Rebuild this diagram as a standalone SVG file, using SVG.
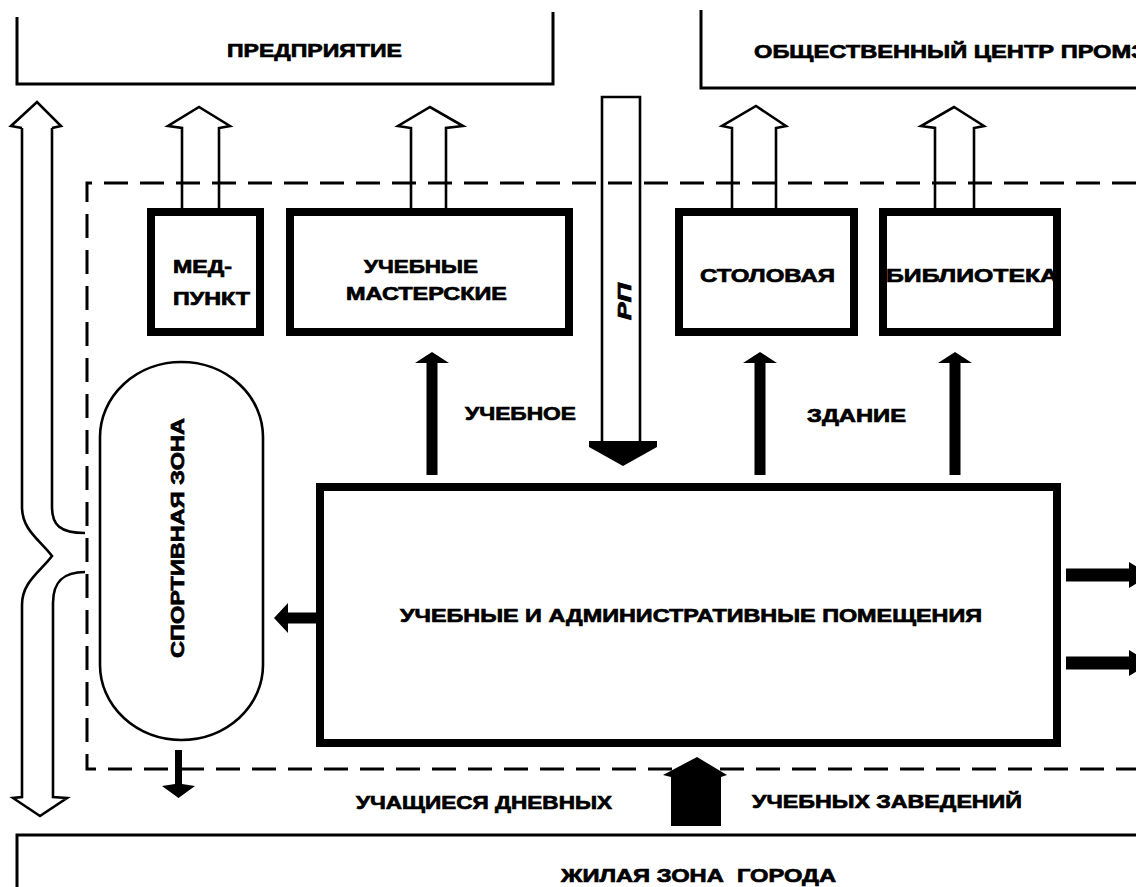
<svg xmlns="http://www.w3.org/2000/svg" width="1136" height="887" viewBox="0 0 1136 887">
  <style>
    .lbl { font-family: "Liberation Sans", Arial, sans-serif; font-weight: bold; font-size: 19px; fill: #000; stroke: #000; stroke-width: 0.7; }
    .box { fill: none; stroke: #000; stroke-width: 8; }
    .frame { fill: none; stroke: #000; stroke-width: 3; }
    .hollow { fill: none; stroke: #000; stroke-width: 2.6; stroke-linejoin: miter; }
    .solid { fill: #000; stroke: none; }
    .dash { fill: none; stroke: #000; stroke-width: 3; stroke-dasharray: 24 12; }
  </style>
  <defs>
    <!-- solid upward arrow, centred on x = 0 -->
    <path id="arrow-up" class="solid" d="M0,352 L17,363 L5.5,363 L5.5,475 L-5.5,475 L-5.5,363 L-17,363 Z"/>
    <!-- solid rightward arrow, centred on y = 0 -->
    <path id="arrow-right" class="solid" d="M1066,-6.5 L1129,-6.5 L1129,-13 L1150,0 L1129,13 L1129,6.5 L1066,6.5 Z"/>
  </defs>

  <rect width="1136" height="887" fill="#fff"/>

  <!-- outer zones -->
  <g id="enterprise">
    <path class="frame" d="M17,17 V84 H553 V12"/>
    <text class="lbl" x="227" y="57" textLength="175" lengthAdjust="spacingAndGlyphs">ПРЕДПРИЯТИЕ</text>
  </g>
  <g id="civic-centre">
    <path class="frame" d="M701,10 V88 H1136"/>
    <text class="lbl" x="754" y="58" textLength="392" lengthAdjust="spacingAndGlyphs">ОБЩЕСТВЕННЫЙ ЦЕНТР ПРОМЗ</text>
  </g>
  <g id="residential-zone">
    <path class="frame" d="M17,887 V835 H1136"/>
    <text class="lbl" x="561" y="882" textLength="275" lengthAdjust="spacingAndGlyphs" style="white-space:pre">ЖИЛАЯ ЗОНА  ГОРОДА</text>
  </g>

  <!-- site boundary -->
  <g id="site-boundary">
    <path class="dash" d="M1136,183 H87 V769 H1136"/>
  </g>

  <!-- buildings -->
  <g id="medpunkt">
    <rect class="box" x="151" y="212" width="109" height="120"/>
    <text class="lbl" x="173" y="273" textLength="59" lengthAdjust="spacingAndGlyphs">МЕД-</text>
    <text class="lbl" x="173" y="305" textLength="77" lengthAdjust="spacingAndGlyphs">ПУНКТ</text>
  </g>
  <g id="workshops">
    <rect class="box" x="290" y="212" width="279" height="120"/>
    <text class="lbl" x="364" y="273" textLength="114" lengthAdjust="spacingAndGlyphs">УЧЕБНЫЕ</text>
    <text class="lbl" x="346" y="300" textLength="161" lengthAdjust="spacingAndGlyphs">МАСТЕРСКИЕ</text>
  </g>
  <g id="canteen">
    <rect class="box" x="679" y="212" width="175" height="120"/>
    <text class="lbl" x="700" y="282" textLength="135" lengthAdjust="spacingAndGlyphs">СТОЛОВАЯ</text>
  </g>
  <g id="library">
    <rect class="box" x="883" y="212" width="174" height="120"/>
    <text class="lbl" x="886" y="282" textLength="172" lengthAdjust="spacingAndGlyphs">БИБЛИОТЕКА</text>
  </g>
  <g id="teaching-admin">
    <rect class="box" x="320" y="487" width="737" height="256"/>
    <text class="lbl" x="400" y="622" textLength="582" lengthAdjust="spacingAndGlyphs">УЧЕБНЫЕ И АДМИНИСТРАТИВНЫЕ ПОМЕЩЕНИЯ</text>
  </g>
  <g id="sports-zone">
    <path class="hollow" d="M100,437 A81.5,75 0 0 1 263,437 V665 A81.5,75 0 0 1 100,665 Z"/>
    <text class="lbl" transform="translate(184,658) rotate(-90)" x="0" y="0" textLength="240" lengthAdjust="spacingAndGlyphs">СПОРТИВНАЯ ЗОНА</text>
  </g>

  <!-- free-standing captions -->
  <g id="captions">
    <text class="lbl" x="465" y="420" textLength="111" lengthAdjust="spacingAndGlyphs">УЧЕБНОЕ</text>
    <text class="lbl" x="807" y="422" textLength="99" lengthAdjust="spacingAndGlyphs">ЗДАНИЕ</text>
    <text class="lbl" x="356" y="809" textLength="256" lengthAdjust="spacingAndGlyphs">УЧАЩИЕСЯ ДНЕВНЫХ</text>
    <text class="lbl" x="752" y="808" textLength="270" lengthAdjust="spacingAndGlyphs">УЧЕБНЫХ ЗАВЕДЕНИЙ</text>
  </g>

  <!-- flows between zones and buildings -->
  <g id="connectors">
    <!-- two-way route along the west side, branching into the site -->
    <path class="hollow" d="M22,128 L11,126 L37,102 L61,126 L52,128"/>
    <path class="hollow" d="M22,128 V507 C22,530 40,540 52,556 C40,572 22,582 22,605 V797 L13,798 L40,816 L67,798 L53,797 V603 C53,580 65,572 85,572"/>
    <path class="hollow" d="M52,128 V507 C52,525 60,533 85,533"/>

    <!-- hollow arrows to the enterprise and civic centre -->
    <path class="hollow" d="M182,208 V128 L168,126 L199,107 L230,126 L219,128 V208"/>
    <path class="hollow" d="M411,208 V128 L398,126 L430,107 L463,126 L446,128 V208"/>
    <path class="hollow" d="M732,208 V128 L722,126 L756,106 L786,126 L776,128 V208"/>
    <path class="hollow" d="M935,208 V128 L921,126 L954,107 L984,126 L974,128 V208"/>

    <!-- РП arrow -->
    <path class="hollow" d="M602,441 V97 H640 V441"/>
    <path class="solid" d="M589,441 L657,441 L657,447 L623,466 L589,447 Z"/>
    <text class="lbl" font-style="italic" font-weight="normal" stroke-width="0.3" transform="translate(631,320) rotate(-90)" x="0" y="0" textLength="37" lengthAdjust="spacingAndGlyphs">РП</text>

    <!-- main block to the buildings -->
    <use href="#arrow-up" x="432"/>
    <use href="#arrow-up" x="760"/>
    <use href="#arrow-up" x="955"/>

    <!-- main block to the sports zone -->
    <path class="solid" d="M316,612.5 L288,612.5 L288,603 L274,618 L288,633 L288,623.5 L316,623.5 Z"/>
    <!-- sports zone out of the site -->
    <path class="solid" d="M175,750 L182,750 L182,784 L195,786 L178.5,798 L162,786 L175,784 Z"/>

    <!-- main block to the east -->
    <use href="#arrow-right" y="575"/>
    <use href="#arrow-right" y="663"/>

    <!-- entry from the residential zone -->
    <path class="solid" d="M697,757 L727,775 L721,777 L721,826 L671,826 L671,777 L663,775 Z"/>
  </g>
</svg>
